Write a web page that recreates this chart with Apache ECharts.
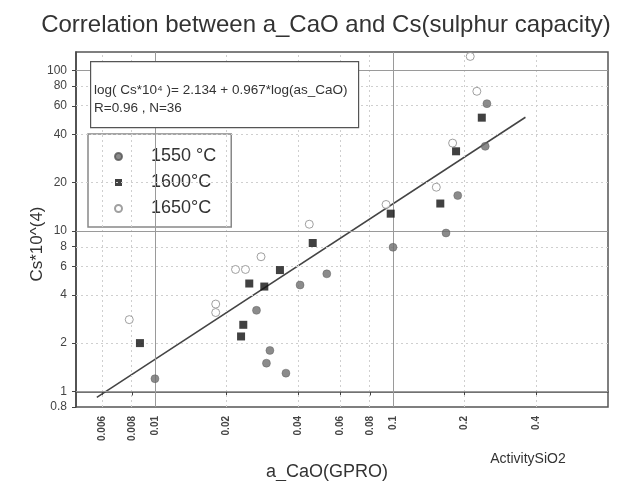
<!DOCTYPE html>
<html>
<head>
<meta charset="utf-8">
<script src="https://cdn.jsdelivr.net/npm/echarts@6/dist/echarts.min.js"></script>
<style>html,body{margin:0;padding:0;background:#fff}#c{width:619px;height:481px}</style>
</head>
<body>
<div id="c"></div>
<script>
// ---- data (raw values) ----
const xTicks = [0.006, 0.008, 0.01, 0.02, 0.04, 0.06, 0.08, 0.1, 0.2, 0.4];
const yTicks = [0.8, 1, 2, 4, 6, 8, 10, 20, 40, 60, 80, 100];
const xMajorGrid = [0.01, 0.1];
const yMajorGrid = [1, 10, 100];
const xMinorGrid = [0.006, 0.008, 0.02, 0.04, 0.06, 0.08, 0.2, 0.4];
const yMinorGrid = [2, 4, 6, 8, 20, 40, 60, 80];
const s1550 = [[0.01,1.2],[0.0267,3.2],[0.0304,1.8],[0.0294,1.5],[0.0355,1.3],[0.0407,4.6],[0.0527,5.4],[0.1,7.9],[0.167,9.7],[0.187,16.6],[0.244,33.6],[0.248,62]];
const s1600 = [[0.00865,2.0],[0.0249,4.7],[0.0288,4.5],[0.0335,5.7],[0.0235,2.6],[0.023,2.2],[0.046,8.4],[0.0978,12.8],[0.158,14.8],[0.184,31.3],[0.236,50.7]];
const s1650 = [[0.0078,2.8],[0.018,3.5],[0.018,3.1],[0.0218,5.75],[0.024,5.75],[0.0279,6.9],[0.0445,11.0],[0.0935,14.6],[0.152,18.7],[0.178,35.2],[0.225,74],[0.211,122]];
const fitLine = [[0.0057,0.92],[0.36,51]];
const seriesNames = ['1550 °C', '1600°C', '1650°C'];
const xRange = [0.00466, 0.8];
const yRange = [0.8, 130];

// ---- helpers ----
const L = Math.log10;
const toLog = arr => arr.map(p => [L(p[0]), L(p[1])]);
const labelOf = (ticks) => (v) => {
  for (const t of ticks) if (Math.abs(L(t) - v) < 1e-6) return String(t);
  return '';
};

const chart = echarts.init(document.getElementById('c'), null, {renderer: 'canvas'});
const fam = 'Arial, "Liberation Sans", sans-serif';

const gridLines = (vals, axis, style) => vals.map(v => ({[axis]: L(v), lineStyle: style}));
const solid = {color: '#9a9a9a', width: 1, type: 'solid'};
const dotted = {color: '#cfcfcf', width: 1, type: [2, 3]};

chart.setOption({
  animation: false,
  backgroundColor: '#fff',
  textStyle: {fontFamily: fam},
  title: {
    text: 'Correlation between a_CaO and Cs(sulphur capacity)',
    left: 321, top: 8, textAlign: 'center',
    textStyle: {fontSize: 24, fontWeight: 'normal', color: '#333', fontFamily: fam}
  },
  grid: {left: 76, right: 11, top: 52, bottom: 74, show: true, borderColor: '#555', borderWidth: 1.5, backgroundColor: 'transparent'},
  xAxis: {
    type: 'value', min: L(xRange[0]), max: L(xRange[1]),
    axisLine: {show: true, lineStyle: {color: '#444', width: 1.5}},
    axisTick: {show: true, length: 4, customValues: xTicks.map(L), lineStyle: {color: '#444'}},
    axisLabel: {customValues: xTicks.map(L), formatter: labelOf(xTicks), rotate: 90, margin: 9, fontSize: 10, fontWeight: 'bold', color: '#444'},
    splitLine: {show: false}
  },
  yAxis: {
    type: 'value', min: L(yRange[0]), max: L(yRange[1]),
    axisLine: {show: true, lineStyle: {color: '#444', width: 1.5}},
    axisTick: {show: true, length: 4, customValues: yTicks.map(L), lineStyle: {color: '#444'}},
    axisLabel: {customValues: yTicks.map(L), formatter: labelOf(yTicks), margin: 9, fontSize: 12, color: '#444'},
    splitLine: {show: false}
  },
  legend: {
    data: seriesNames,
    orient: 'vertical', left: 88, top: 134,
    padding: [13, 15, 9, 26], itemGap: 7,
    itemWidth: 7, itemHeight: 7,
    backgroundColor: '#fff', borderColor: '#888', borderWidth: 1.5,
    textStyle: {fontSize: 18, color: '#333', lineHeight: 19, padding: [0, 0, 0, 24]}
  },
  graphic: [
    {type: 'rect', left: 90, top: 61, shape: {width: 268, height: 66}, style: {fill: '#fff', stroke: '#555', lineWidth: 1.2}, z: 10},
    {type: 'text', x: 94, y: 90, style: {text: 'log( Cs*10⁴ )= 2.134 + 0.967*log(as_CaO)', font: '13.5px Arial, sans-serif', fill: '#333', verticalAlign: 'middle'}, z: 11},
    {type: 'text', x: 94, y: 108, style: {text: 'R=0.96 , N=36', font: '13.5px Arial, sans-serif', fill: '#333', verticalAlign: 'middle'}, z: 11},
    {type: 'text', x: 37, y: 244, rotation: Math.PI / 2, style: {text: 'Cs*10^(4)', font: '17px Arial, sans-serif', fill: '#333', align: 'center', verticalAlign: 'middle'}},
    {type: 'text', x: 327, y: 472, style: {text: 'a_CaO(GPRO)', font: '18px Arial, sans-serif', fill: '#333', align: 'center', verticalAlign: 'middle'}},
    {type: 'text', x: 528, y: 459, style: {text: 'ActivitySiO2', font: '14px Arial, sans-serif', fill: '#333', align: 'center', verticalAlign: 'middle'}}
  ],
  series: [
    {
      name: 'grid', type: 'line', data: [], silent: true,
      markLine: {
        silent: true, symbol: 'none', label: {show: false},
        data: [].concat(
          gridLines(xMinorGrid, 'xAxis', dotted),
          gridLines(yMinorGrid, 'yAxis', dotted),
          gridLines(xMajorGrid, 'xAxis', solid),
          gridLines(yMajorGrid, 'yAxis', solid)
        )
      },
      z: 1
    },
    {
      name: 'fit', type: 'line', data: toLog(fitLine), symbol: 'none', silent: true,
      lineStyle: {color: '#444', width: 1.5}, z: 3
    },
    {
      name: seriesNames[0], type: 'scatter', data: toLog(s1550), symbol: 'circle', symbolSize: 8,
      itemStyle: {color: '#6e6e6e', borderColor: '#555', borderWidth: 0.5}, z: 5
    },
    {
      name: seriesNames[1], type: 'scatter', data: toLog(s1600), symbol: 'rect', symbolSize: 8,
      itemStyle: {color: '#111'}, z: 5
    },
    {
      name: seriesNames[2], type: 'scatter', data: toLog(s1650), symbol: 'circle', symbolSize: 8,
      itemStyle: {color: '#fff', borderColor: '#888', borderWidth: 1}, z: 5
    }
  ]
});
</script>
</body>
</html>
